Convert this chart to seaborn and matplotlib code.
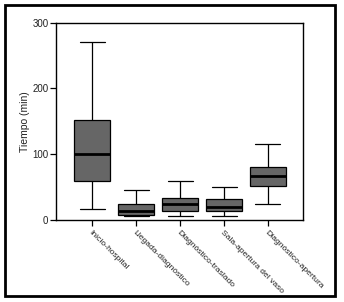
import numpy as np
import pandas as pd
import matplotlib
matplotlib.use("Agg")
import matplotlib.pyplot as plt
import seaborn as sns
from matplotlib.patches import Rectangle

categories = ["Inicio-hospital", "Llegada-diagnóstico", "Diagnóstico-traslado",
              "Sala-apertura del vaso", "Diagnóstico-apertura"]
# five-number summaries: min, Q1, median, Q3, max
whisker_low = [16, 6, 6, 6, 25]
q1 = [60, 7, 14, 14, 51]
median = [100, 14, 25, 20, 67]
q3 = [152, 25, 34, 32, 80]
whisker_high = [270, 45, 60, 50, 116]
y_ticks = [0, 100, 200, 300]

rows = []
for i, c in enumerate(categories):
    for v in (whisker_low[i], q1[i], median[i], q3[i], whisker_high[i]):
        rows.append({"tramo": c, "tiempo": v})
df = pd.DataFrame(rows)

sns.set_style("white")
plt.rcParams["font.family"] = ["Liberation Sans", "DejaVu Sans"]

fig = plt.figure(figsize=(3.44, 3.02), dpi=100)
ax = fig.add_axes([0.163, 0.2715, 0.718, 0.6535])

sns.boxplot(data=df, x="tramo", y="tiempo", ax=ax, whis=(0, 100), width=0.82,
            color="#666666", saturation=1, linecolor="black", linewidth=0.9,
            medianprops={"linewidth": 2.0, "color": "black"},
            capwidths=0.57, showfliers=False)

ax.set_xlim(-0.83, 4.8)
ax.set_ylim(0, 300)
ax.set_yticks(y_ticks)
ax.set_yticklabels([str(t) for t in y_ticks], fontsize=7, color="#222222")
ax.set_xticks(range(len(categories)))
ax.set_xticklabels(categories, rotation=-45, ha="left", rotation_mode="anchor",
                   fontsize=6.1, color="#222222")
ax.set_xlabel("")
ax.set_ylabel("Tiempo (min)", fontsize=7.5, color="#222222", labelpad=2)
for s in ax.spines.values():
    s.set_visible(True)
    s.set_color("black")
    s.set_linewidth(1.0)
ax.tick_params(axis="both", direction="out", length=4, width=0.9, color="black",
               bottom=True, left=True, pad=1.5)
ax.tick_params(axis="x", pad=2.5)

fig.patches.append(Rectangle((5 / 344, 1 - 296 / 302), 330 / 344, 291 / 302,
                             transform=fig.transFigure, fill=False,
                             edgecolor="black", linewidth=2.0))

fig.savefig("out.png", dpi=100)
